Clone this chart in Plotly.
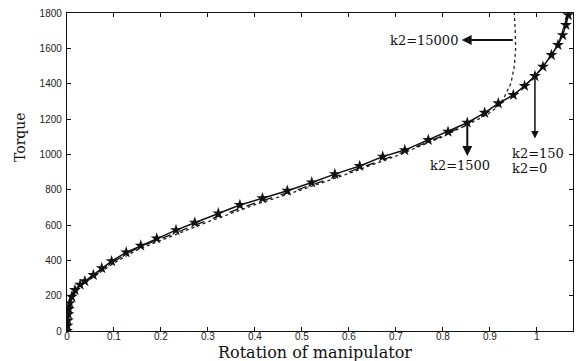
import plotly.graph_objects as go

# k2 = 0 / k2 = 150 (solid line with star markers)
rot_k0 = [0, 0.001, 0.002, 0.003, 0.004, 0.006, 0.010, 0.017, 0.028, 0.038, 0.056, 0.074,
          0.095, 0.126, 0.157, 0.191, 0.232, 0.272, 0.322, 0.368, 0.416, 0.469, 0.521,
          0.570, 0.623, 0.672, 0.719, 0.769, 0.811, 0.852, 0.889, 0.918, 0.950, 0.974,
          0.996, 1.013, 1.031, 1.045, 1.055, 1.062, 1.067]
torque_k0 = [0, 30, 60, 95, 125, 158, 194, 232, 262, 282, 317, 356,
             395, 445, 483, 524, 571, 613, 666, 713, 751, 794, 841,
             888, 934, 987, 1024, 1081, 1128, 1179, 1235, 1289, 1336, 1387,
             1443, 1496, 1562, 1619, 1675, 1732, 1788]

# k2 = 1500 (dashed)
rot_k1500 = [0, 0.003, 0.01, 0.03, 0.06, 0.1, 0.15, 0.2, 0.3, 0.4, 0.5, 0.6, 0.7, 0.8,
             0.85, 0.9, 0.95, 1.0, 1.03, 1.05, 1.065, 1.07]
torque_k1500 = [0, 95, 190, 265, 320, 395, 470, 522, 628, 724, 808, 900, 996, 1105,
                1170, 1250, 1332, 1452, 1555, 1650, 1780, 1800]

# k2 = 15000 (dotted)
rot_k15000 = [0, 0.003, 0.01, 0.03, 0.06, 0.1, 0.15, 0.2, 0.3, 0.4, 0.5, 0.6, 0.7, 0.8,
              0.85, 0.88, 0.9, 0.917, 0.93, 0.945, 0.952, 0.955, 0.954, 0.952]
torque_k15000 = [0, 90, 185, 258, 312, 385, 460, 512, 618, 715, 800, 892, 990, 1100,
                 1165, 1205, 1235, 1270, 1320, 1403, 1496, 1600, 1700, 1800]

x_ticks = [0, 0.1, 0.2, 0.3, 0.4, 0.5, 0.6, 0.7, 0.8, 0.9, 1]
y_ticks = [0, 200, 400, 600, 800, 1000, 1200, 1400, 1600, 1800]

fig = go.Figure()
fig.add_trace(go.Scatter(x=rot_k15000, y=torque_k15000, mode="lines",
                         line=dict(color="#222", width=1.3, dash="dot"), name="k2=15000"))
fig.add_trace(go.Scatter(x=rot_k1500, y=torque_k1500, mode="lines",
                         line=dict(color="#111", width=1.3, dash="dash"), name="k2=1500"))
fig.add_trace(go.Scatter(x=rot_k0, y=torque_k0, mode="lines+markers",
                         line=dict(color="#111", width=1.5),
                         marker=dict(symbol="star", size=9, color="#111"),
                         name="k2=0"))

serif = "DejaVu Serif, Liberation Serif, serif"
ann_font = dict(family=serif, size=13, color="#111")
annotations = [
    # k2=15000 label and arrow
    dict(x=0.76, y=1647, xref="x", yref="y", text="k2=15000", showarrow=False, font=ann_font),
    dict(x=0.84, y=1647, ax=0.952, ay=1647, xref="x", yref="y", axref="x", ayref="y",
         text="", showarrow=True, arrowhead=2, arrowsize=1, arrowwidth=2, arrowcolor="#111"),
    # k2=1500
    dict(x=0.852, y=990, ax=0.852, ay=1179, xref="x", yref="y", axref="x", ayref="y",
         text="", showarrow=True, arrowhead=2, arrowsize=1, arrowwidth=2, arrowcolor="#111"),
    dict(x=0.836, y=934, xref="x", yref="y", text="k2=1500", showarrow=False, font=ann_font),
    # k2=150 / k2=0
    dict(x=0.996, y=1090, ax=0.996, ay=1443, xref="x", yref="y", axref="x", ayref="y",
         text="", showarrow=True, arrowhead=2, arrowsize=1, arrowwidth=1.5, arrowcolor="#111"),
    dict(x=0.943, y=1007, xref="x", yref="y", text="k2=150", showarrow=False,
         xanchor="left", font=ann_font),
    dict(x=0.943, y=922, xref="x", yref="y", text="k2=0", showarrow=False,
         xanchor="left", font=ann_font),
    # axis titles
    dict(x=(315 - 67) / 506, y=-(352 - 331) / 318, xref="paper", yref="paper",
         text="Rotation of manipulator", showarrow=False, xanchor="center", yanchor="middle",
         font=dict(family=serif, size=16, color="#111")),
    dict(x=-(67 - 20) / 506, y=(331 - 137) / 318, xref="paper", yref="paper", text="Torque",
         showarrow=False, textangle=-90, xanchor="center", yanchor="middle",
         font=dict(family=serif, size=14, color="#111")),
]

axis_common = dict(showgrid=False, zeroline=False, showline=True, linecolor="#111",
                   linewidth=1.3, mirror="ticks", ticks="inside", ticklen=4,
                   tickcolor="#111", tickfont=dict(family="Liberation Sans, Arial", size=10,
                                                   color="#222"))

fig.update_layout(
    width=580, height=361,
    margin=dict(l=67, r=7, t=13, b=30),
    paper_bgcolor="white", plot_bgcolor="white",
    showlegend=False,
    xaxis=dict(range=[0, 1.077], tickvals=x_ticks, ticktext=[str(v) for v in x_ticks],
               ticklabelstandoff=-4, **axis_common),
    yaxis=dict(range=[0, 1800], tickvals=y_ticks, ticktext=[str(v) for v in y_ticks],
               ticklabelstandoff=2, **axis_common),
    annotations=annotations,
)

fig.write_html("out.html", config={"displayModeBar": False},
               post_script="document.body.style.margin='0';document.body.style.padding='0';")
